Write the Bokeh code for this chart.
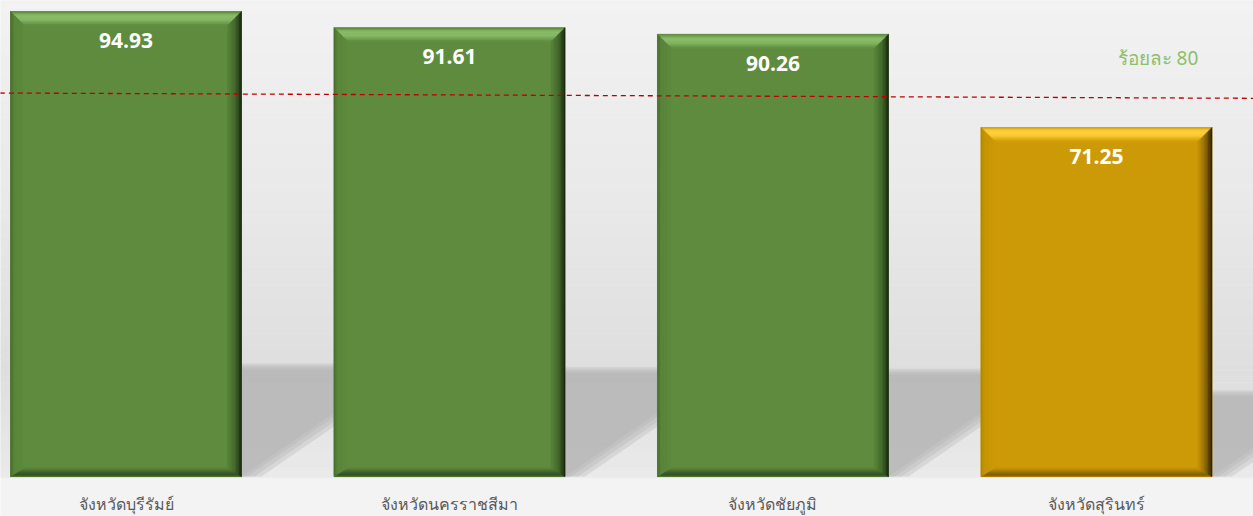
import numpy as np
from bokeh.plotting import figure
from bokeh.models import Range1d
from bokeh.core.properties import value
from bokeh.embed import file_html
from bokeh.resources import INLINE

# ---------------- data ----------------
provinces = ["จังหวัดบุรีรัมย์", "จังหวัดนครราชสีมา", "จังหวัดชัยภูมิ", "จังหวัดสุรินทร์"]
percent = [94.93, 91.61, 90.26, 71.25]
value_labels = ["94.93", "91.61", "90.26", "71.25"]
target = 80
target_label = "ร้อยละ 80"
# the dashed target line as drawn in the picture (slightly sloping)
target_line_x = [-0.39, 3.49]
target_line_y = [78.29, 77.21]

# ---------------- layout / style ----------------
W, H = 1253, 516
X0, X1 = -0.388, 3.4854
Y0, Y1 = -8.15, 97.175
PX_X = W / (X1 - X0)
PX_Y = H / (Y1 - Y0)
BAR_W = 231 / PX_X

p = figure(width=W, height=H, output_backend="svg", toolbar_location=None,
           x_range=Range1d(X0, X1), y_range=Range1d(Y0, Y1), min_border=0)
p.axis.visible = False
p.grid.visible = False
p.outline_line_color = None
p.background_fill_color = "#f3f3f3"
p.border_fill_color = "#f3f3f3"


def lerp_stops(stops, t):
    ts = [s[0] for s in stops]
    cols = np.array([s[1] for s in stops], dtype=float)
    c = [np.interp(t, ts, cols[:, k]) for k in range(3)]
    return "#%02x%02x%02x" % tuple(int(round(v)) for v in c)


# ---------------- background gradient ----------------
base_py = Y1 * PX_Y
bg_stops = [(0, (242, 242, 242)), (200, (233, 233, 233)), (370, (222, 222, 222)),
            (base_py, (234, 234, 234))]
n_strips = 80
edges = np.linspace(0, base_py + 1, n_strips + 1)
bq = dict(top=[], bottom=[], color=[])
for i in range(n_strips):
    a, b = edges[i], edges[i + 1]
    bq["top"].append(Y1 - a / PX_Y)
    bq["bottom"].append(Y1 - b / PX_Y)
    bq["color"].append(lerp_stops(bg_stops, (a + b) / 2))
p.quad(left=X0, right=X1, top=bq["top"], bottom=bq["bottom"],
       fill_color=bq["color"], line_color=bq["color"], line_width=0.5)

# ---------------- cast shadows (soft edges by layering) ----------------
SH_RATIO = 0.23
SKEW = 1.45
for grow_top, grow_side in [(6, 20), (4, 13), (2, 6), (0, 0)]:
    xs, ys = [], []
    for i, v in enumerate(percent):
        L, R = i - BAR_W / 2, i + BAR_W / 2
        sh = SH_RATIO * v + grow_top / PX_Y
        dx = SKEW * sh * PX_Y / PX_X + grow_side / PX_X
        xs.append([L, R + grow_side / PX_X, R + dx, L + dx])
        ys.append([0, 0, sh, sh])
    p.patches(xs, ys, fill_color="#b0b0b0", fill_alpha=0.3, line_color=None)

# ---------------- bevelled bars ----------------
green = dict(
    main=(94, 139, 62),
    top=[(0, (78, 124, 50)), (0.1, (105, 155, 75)), (0.3, (140, 191, 106)),
         (0.6, (136, 186, 102)), (0.85, (110, 160, 80)), (1, (94, 139, 62))],
    right=[(0, (22, 34, 14)), (0.25, (45, 72, 30)), (0.5, (68, 105, 44)), (1, (88, 132, 58))],
    bottom=[(0, (82, 122, 52)), (0.2, (52, 80, 35)), (0.5, (62, 95, 41)), (1, (94, 139, 62))],
    left=[(0, (72, 110, 46)), (0.3, (90, 134, 60)), (1, (94, 139, 62))],
)
gold = dict(
    main=(204, 154, 6),
    top=[(0, (190, 140, 0)), (0.1, (236, 186, 30)), (0.3, (255, 212, 62)),
         (0.6, (250, 202, 52)), (0.85, (226, 176, 26)), (1, (204, 154, 6))],
    right=[(0, (40, 30, 0)), (0.25, (88, 64, 0)), (0.5, (142, 106, 0)), (1, (196, 148, 5))],
    bottom=[(0, (176, 132, 0)), (0.2, (122, 92, 0)), (0.5, (152, 114, 0)), (1, (204, 154, 6))],
    left=[(0, (178, 134, 0)), (0.3, (198, 150, 4)), (1, (204, 154, 6))],
)

BX = 14 / PX_X
BY_T = 14 / PX_Y
BY_B = 9 / PX_Y
N = 10

px, py, pc = [], [], []
for i, v in enumerate(percent):
    pal = green if v >= target else gold
    L, R, T, B = i - BAR_W / 2, i + BAR_W / 2, v, 0.0
    base = "#%02x%02x%02x" % pal["main"]
    px.append([L, R, R, L]); py.append([B, B, T, T]); pc.append(base)
    for k in range(N):
        t0, t1 = k / N, (k + 1) / N
        tm = (t0 + t1) / 2
        # top
        px.append([L + t0 * BX, R - t0 * BX, R - t1 * BX, L + t1 * BX])
        py.append([T - t0 * BY_T, T - t0 * BY_T, T - t1 * BY_T, T - t1 * BY_T])
        pc.append(lerp_stops(pal["top"], tm))
        # bottom
        px.append([L + t0 * BX, R - t0 * BX, R - t1 * BX, L + t1 * BX])
        py.append([B + t0 * BY_B, B + t0 * BY_B, B + t1 * BY_B, B + t1 * BY_B])
        pc.append(lerp_stops(pal["bottom"], tm))
        # left
        px.append([L + t0 * BX, L + t0 * BX, L + t1 * BX, L + t1 * BX])
        py.append([T - t0 * BY_T, B + t0 * BY_B, B + t1 * BY_B, T - t1 * BY_T])
        pc.append(lerp_stops(pal["left"], tm))
        # right
        px.append([R - t0 * BX, R - t0 * BX, R - t1 * BX, R - t1 * BX])
        py.append([T - t0 * BY_T, B + t0 * BY_B, B + t1 * BY_B, T - t1 * BY_T])
        pc.append(lerp_stops(pal["right"], tm))

p.patches(px, py, fill_color=pc, line_color=pc, line_width=0.6)

# ---------------- target line ----------------
p.line(target_line_x, target_line_y, line_color="#c00000", line_width=1.3, line_dash="5 4")
p.text(x=[3.19], y=[target], text=[target_label], text_color="#8cbf6a",
       text_font=value("Noto Sans"), text_font_size="19px",
       text_align="center", text_baseline="middle", y_offset=-27)

# ---------------- labels ----------------
xs_cat = list(range(len(percent)))
p.text(x=xs_cat, y=percent, text=value_labels, text_color="white",
       text_font=value("Open Sans"), text_font_style="bold", text_font_size="21px",
       text_align="center", text_baseline="middle", y_offset=29)
p.text(x=xs_cat, y=[0] * len(percent), text=provinces, text_color="#595959",
       text_font=value("Noto Sans"), text_font_size="16px",
       text_align="center", text_baseline="middle", y_offset=27)

open("out.html", "w").write(file_html(p, INLINE))
